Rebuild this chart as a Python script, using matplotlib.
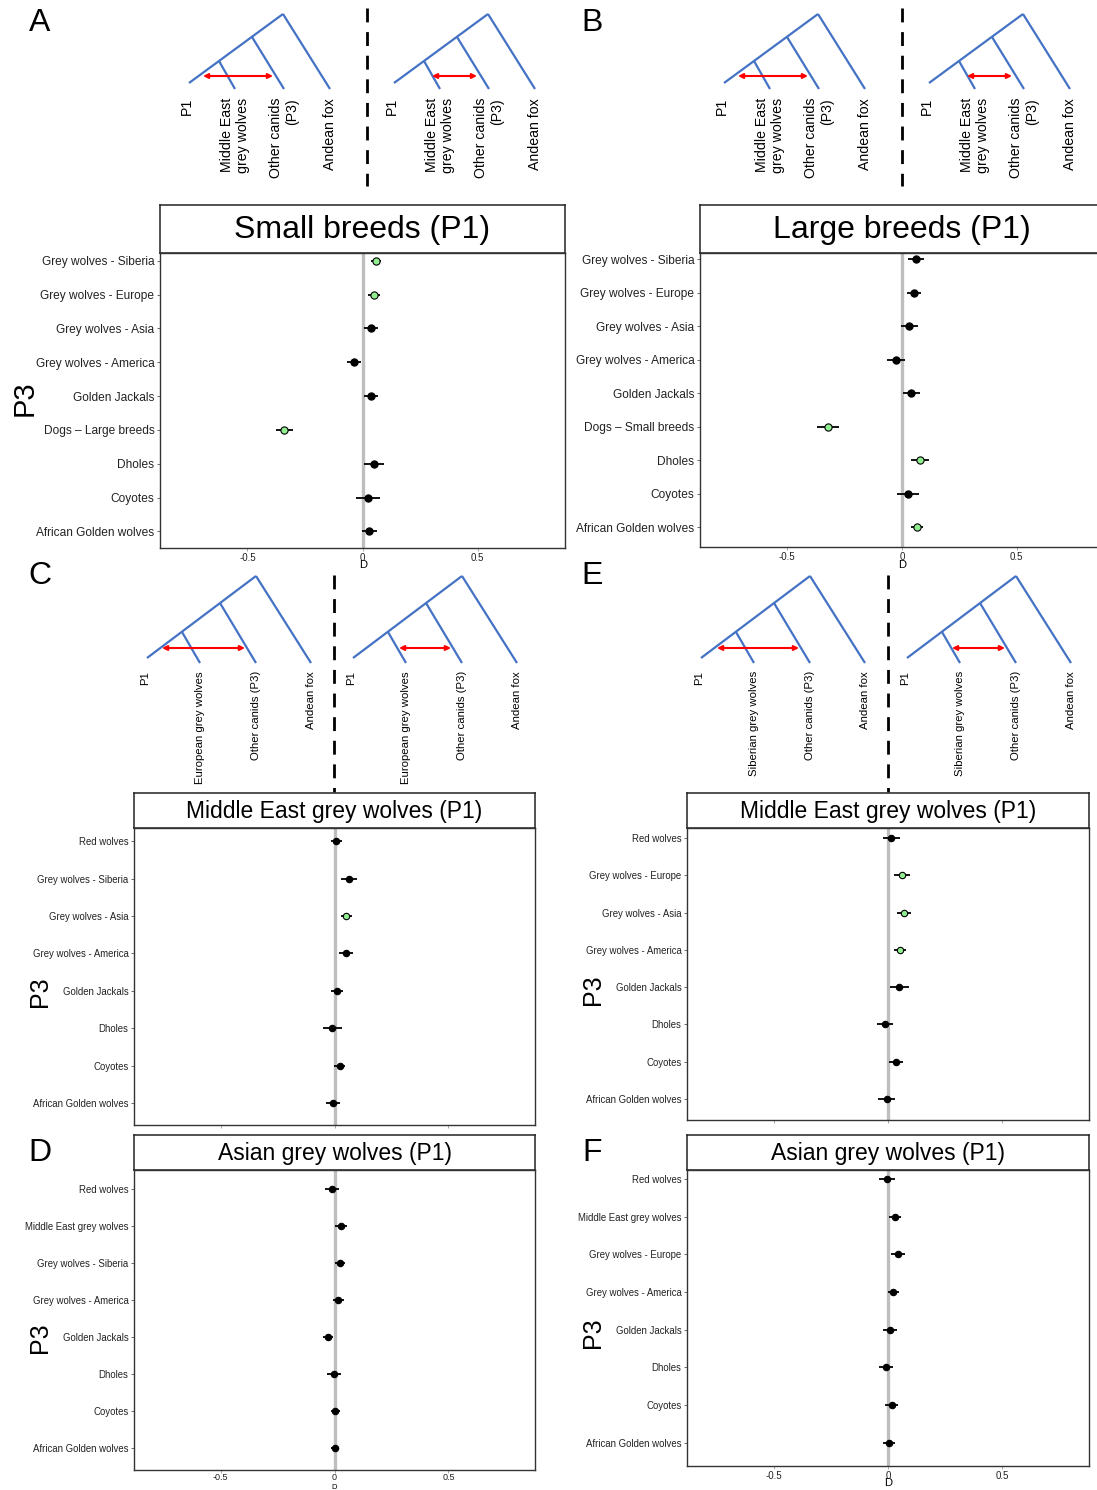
import matplotlib
matplotlib.use("Agg")
import matplotlib.pyplot as plt

plt.rcParams['font.family'] = ['Liberation Sans', 'DejaVu Sans']

W, H = 1097, 1490

# ---------------- data ----------------
cats_A = ['Grey wolves - Siberia', 'Grey wolves - Europe', 'Grey wolves - Asia', 'Grey wolves - America',
          'Golden Jackals', 'Dogs – Large breeds', 'Dholes', 'Coyotes', 'African Golden wolves']
d_A = [0.058, 0.050, 0.037, -0.037, 0.036, -0.340, 0.050, 0.023, 0.029]
err_A = [0.022, 0.024, 0.031, 0.032, 0.031, 0.036, 0.043, 0.052, 0.033]
sig_A = [1, 1, 0, 0, 0, 1, 0, 0, 0]

cats_B = ['Grey wolves - Siberia', 'Grey wolves - Europe', 'Grey wolves - Asia', 'Grey wolves - America',
          'Golden Jackals', 'Dogs – Small breeds', 'Dholes', 'Coyotes', 'African Golden wolves']
d_B = [0.061, 0.051, 0.032, -0.028, 0.041, -0.322, 0.079, 0.026, 0.064]
err_B = [0.035, 0.031, 0.036, 0.039, 0.038, 0.047, 0.039, 0.049, 0.026]
sig_B = [0, 0, 0, 0, 0, 1, 1, 0, 1]

cats_C = ['Red wolves', 'Grey wolves - Siberia', 'Grey wolves - Asia', 'Grey wolves - America',
          'Golden Jackals', 'Dholes', 'Coyotes', 'African Golden wolves']
d_C = [0.008, 0.064, 0.052, 0.049, 0.011, -0.009, 0.023, -0.008]
err_C = [0.024, 0.036, 0.025, 0.031, 0.025, 0.042, 0.025, 0.030]
sig_C = [0, 0, 1, 0, 0, 0, 0, 0]

cats_D = ['Red wolves', 'Middle East grey wolves', 'Grey wolves - Siberia', 'Grey wolves - America',
          'Golden Jackals', 'Dholes', 'Coyotes', 'African Golden wolves']
d_D = [-0.011, 0.029, 0.024, 0.017, -0.029, -0.003, 0.003, 0.002]
err_D = [0.030, 0.027, 0.023, 0.023, 0.023, 0.030, 0.020, 0.019]
sig_D = [0, 0, 0, 0, 0, 0, 0, 0]

cats_E = ['Red wolves', 'Grey wolves - Europe', 'Grey wolves - Asia', 'Grey wolves - America',
          'Golden Jackals', 'Dholes', 'Coyotes', 'African Golden wolves']
d_E = [0.015, 0.063, 0.071, 0.053, 0.049, -0.013, 0.035, -0.006]
err_E = [0.039, 0.035, 0.031, 0.027, 0.041, 0.036, 0.029, 0.036]
sig_E = [0, 1, 1, 1, 0, 0, 0, 0]

cats_F = ['Red wolves', 'Middle East grey wolves', 'Grey wolves - Europe', 'Grey wolves - America',
          'Golden Jackals', 'Dholes', 'Coyotes', 'African Golden wolves']
d_F = [-0.004, 0.029, 0.044, 0.022, 0.010, -0.009, 0.016, 0.004]
err_F = [0.035, 0.026, 0.029, 0.024, 0.030, 0.029, 0.029, 0.026]
sig_F = [0, 0, 0, 0, 0, 0, 0, 0]

x_ticks = [-0.5, 0, 0.5]
x_ticklabels = ['-0.5', '0', '0.5']

# ---------------- figure ----------------
fig = plt.figure(figsize=(W / 100, H / 100), dpi=100)


def px_axes(L, T, R, B, **kw):
    return fig.add_axes([L / W, 1 - B / H, (R - L) / W, (B - T) / H], **kw)


def panel(box, strip_top, title, title_fs, cats, vals, errs, sig, ylim_pad,
          tick_fs, show_xlabels, msize, xpad=1, xfs=7):
    L, T, R, B = box
    st = px_axes(L, strip_top, R, T)
    st.set_xticks([]); st.set_yticks([])
    for s in st.spines.values():
        s.set_color('#222222'); s.set_linewidth(1.1)
    st.text(0.5, 0.47, title, ha='center', va='center', fontsize=title_fs, transform=st.transAxes)

    ax = px_axes(L, T, R, B)
    n = len(cats)
    ys = list(range(n))
    ax.axvline(0, color='#BEBEBE', lw=2.4, zorder=1)
    for y, v, e, s in zip(ys, vals, errs, sig):
        ax.plot([v - e, v + e], [y, y], color='black', lw=1.3, zorder=2, solid_capstyle='butt')
        if s:
            ax.plot(v, y, 'o', ms=msize, mfc='#90EE90', mec='black', mew=0.8, zorder=3)
        else:
            ax.plot(v, y, 'o', ms=msize, mfc='black', mec='black', mew=0.8, zorder=3)
    ax.set_xlim(-0.88, 0.88)
    ax.set_ylim(n - 1 + ylim_pad[1], -ylim_pad[0])
    ax.set_yticks(ys)
    ax.set_yticklabels(cats, fontsize=tick_fs, color='#222222')
    ax.set_xticks(x_ticks)
    if show_xlabels:
        ax.set_xticklabels(x_ticklabels, fontsize=xfs, color='#222222')
    else:
        ax.set_xticklabels([])
    ax.tick_params(axis='y', length=2.5, width=0.6, pad=1.5, colors='#555555', labelcolor='#222222')
    ax.tick_params(axis='x', length=2.5, width=0.6, pad=xpad, colors='#999999', labelcolor='#222222')
    for s in ax.spines.values():
        s.set_color('#333333'); s.set_linewidth(1.0)
    return ax


panel((160, 253, 565, 548), 205, 'Small breeds (P1)', 23, cats_A, d_A, err_A, sig_A, (0.23, 0.49), 8.6, True, 5.2)
panel((700, 253, 1104, 547), 205, 'Large breeds (P1)', 23, cats_B, d_B, err_B, sig_B, (0.18, 0.59), 8.6, True, 5.2)
panel((134, 828, 535, 1125), 793, 'Middle East grey wolves (P1)', 16.5, cats_C, d_C, err_C, sig_C, (0.35, 0.58), 6.9, False, 4.6)
panel((134, 1170, 535, 1470), 1135, 'Asian grey wolves (P1)', 16.5, cats_D, d_D, err_D, sig_D, (0.5, 0.6), 6.9, True, 4.6, xpad=0, xfs=6.5)
panel((687, 828, 1089, 1120), 793, 'Middle East grey wolves (P1)', 16.5, cats_E, d_E, err_E, sig_E, (0.27, 0.57), 6.9, False, 4.6)
panel((687, 1170, 1089, 1466), 1135, 'Asian grey wolves (P1)', 16.5, cats_F, d_F, err_F, sig_F, (0.24, 0.62), 6.9, True, 4.6)

# ---------------- overlay: trees, letters, labels ----------------
ov = fig.add_axes([0, 0, 1, 1], zorder=-1)
ov.set_xlim(0, W); ov.set_ylim(H, 0); ov.axis('off')

BLUE = '#4472C4'


def tree(root, geom, arrow, labels, label_top, fs):
    rx, ry = root
    P = {k: (rx + dx, ry + dy) for k, (dx, dy) in geom.items()}
    lines = [('root', 'p1'), ('n1', 't2'), ('n2', 't3'), ('root', 't4')]
    P['root'] = (rx, ry)
    for a, b in lines:
        ov.plot([P[a][0], P[b][0]], [P[a][1], P[b][1]], color=BLUE, lw=1.6, solid_capstyle='butt')
    (ax1, ay), (ax2, _) = arrow
    ov.annotate('', xy=(rx + ax2, ry + ay), xytext=(rx + ax1, ry + ay),
                arrowprops=dict(arrowstyle='<|-|>', color='red', lw=1.5, mutation_scale=7,
                                shrinkA=0, shrinkB=0))
    keys = ['p1', 't2', 't3', 't4']
    for k, lab in zip(keys, labels):
        x = P[k][0] - (2 if k == 'p1' else 0)
        ov.text(x, ry + label_top, lab, rotation=90, ha='center', va='top', fontsize=fs,
                multialignment='right', linespacing=1.2)


geomA = {'p1': (-94, 69), 'n1': (-64, 47), 't2': (-48, 75), 'n2': (-31, 23), 't3': (1, 75), 't4': (47, 75)}
geomC = {'p1': (-109, 82), 'n1': (-74, 56), 't2': (-56, 87), 'n2': (-36, 27), 't3': (0, 87), 't4': (55, 87)}

labsA = ['P1', 'Middle East\ngrey wolves', 'Other canids\n(P3)', 'Andean fox']
labsC = ['P1', 'European grey wolves', 'Other canids (P3)', 'Andean fox']
labsE = ['P1', 'Siberian grey wolves', 'Other canids (P3)', 'Andean fox']

tree((283, 14), geomA, ((-80, 62), (-10, 62)), labsA, 84, 10.2)
tree((488, 14), geomA, ((-56, 62), (-11, 62)), labsA, 84, 10.2)
tree((818, 14), geomA, ((-80, 62), (-10, 62)), labsA, 84, 10.2)
tree((1023, 14), geomA, ((-56, 62), (-11, 62)), labsA, 84, 10.2)
tree((256, 576), geomC, ((-94, 72), (-11, 72)), labsC, 95, 8.2)
tree((462, 576), geomC, ((-63, 72), (-11, 72)), labsC, 95, 8.2)
tree((810, 576), geomC, ((-93, 72), (-11, 72)), labsE, 95, 8.2)
tree((1016, 576), geomC, ((-64, 72), (-11, 72)), labsE, 95, 8.2)

for x, y0, y1 in [(367, 8, 186), (902, 8, 186), (334, 575, 792), (888, 575, 792)]:
    ov.plot([x, x], [y0, y1], color='black', lw=2, dashes=(5, 3.5))

for lab, x, y in [('A', 40, 23), ('B', 592, 23), ('C', 40, 576), ('E', 592, 576),
                  ('D', 40, 1153), ('F', 592, 1153)]:
    ov.text(x, y, lab, ha='center', va='center', fontsize=23)

for x, y, fs in [(25, 398, 21), (40, 992, 18), (40, 1338, 18), (593, 990, 18), (593, 1333, 18)]:
    ov.text(x, y, 'P3', rotation=90, ha='center', va='center', fontsize=fs)

for x, y, fs in [(363, 565, 8), (902, 565, 8), (888, 1483, 8)]:
    ov.text(x, y, 'D', ha='center', va='center', fontsize=fs)
ov.text(334, 1489, 'D', ha='center', va='baseline', fontsize=5.5)

fig.savefig('out.png', dpi=100)
